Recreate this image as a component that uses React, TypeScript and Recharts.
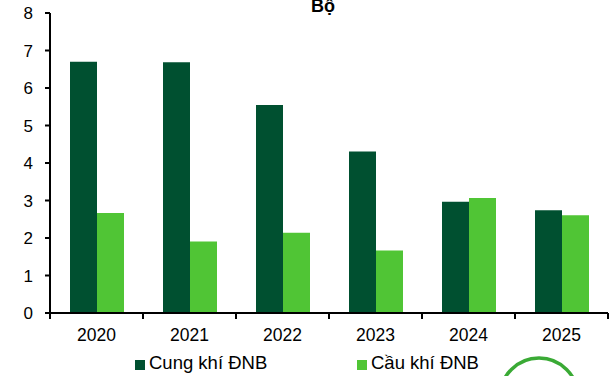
import React from "react";
import { BarChart, Bar, XAxis, YAxis, Legend } from "recharts";

const years = ["2020", "2021", "2022", "2023", "2024", "2025"];
const supply = [6.7, 6.69, 5.55, 4.31, 2.97, 2.74];
const demand = [2.67, 1.91, 2.14, 1.67, 3.07, 2.61];
const yTicks = [0, 1, 2, 3, 4, 5, 6, 7, 8];
const title = "Bộ";
const supplyName = "Cung khí ĐNB";
const demandName = "Cầu khí ĐNB";

const data = years.map((y, i) => ({ year: y, supply: supply[i], demand: demand[i] }));

const DARK = "#005030";
const LIGHT = "#50c535";
const FONT = "'Liberation Sans', Arial, sans-serif";

const XTick = (props: any) => {
  const { x, y, payload, index, visibleTicksCount } = props;
  const half = payload && payload.offset ? payload.offset : 46.5;
  const top = y - 8;
  return (
    <g>
      <line x1={x - half} x2={x - half} y1={top} y2={top + 6} stroke="#000" strokeWidth={2} />
      {index === visibleTicksCount - 1 ? (
        <line x1={x + half} x2={x + half} y1={top} y2={top + 6} stroke="#000" strokeWidth={2} />
      ) : null}
      <text x={x} y={y + 20} textAnchor="middle" fontSize={17.5} fontFamily={FONT} fill="#000">
        {payload.value}
      </text>
    </g>
  );
};

const LegendContent = () => (
  <div style={{ position: "relative", width: 613, height: 20, fontFamily: FONT, fontSize: 18.5 }}>
    <div style={{ position: "absolute", left: 135, top: 5, width: 10, height: 10, background: DARK }} />
    <div style={{ position: "absolute", left: 149, top: -2, lineHeight: "20px", whiteSpace: "nowrap" }}>{supplyName}</div>
    <div style={{ position: "absolute", left: 357, top: 5, width: 10, height: 10, background: LIGHT }} />
    <div style={{ position: "absolute", left: 371, top: -2, lineHeight: "20px", whiteSpace: "nowrap" }}>{demandName}</div>
  </div>
);

export default function App() {
  return (
    <div style={{ position: "absolute", left: 0, top: 0, width: 613, height: 376, overflow: "hidden", background: "#fff" }}>
      <BarChart
        width={613}
        height={376}
        data={data}
        margin={{ top: 13, right: 5, bottom: 13, left: 0 }}
        barCategoryGap={20}
        barGap={0}
      >
        <XAxis
          dataKey="year"
          height={30}
          axisLine={{ stroke: "#000", strokeWidth: 2 }}
          tickLine={false}
          tick={<XTick />}
          interval={0}
        />
        <YAxis
          width={50}
          domain={[0, 8]}
          ticks={yTicks}
          interval={0}
          axisLine={{ stroke: "#000", strokeWidth: 2 }}
          tickLine={{ stroke: "#000", strokeWidth: 2 }}
          tickSize={5}
          tickMargin={12}
          tick={{ fontSize: 17, fontFamily: FONT, fill: "#000" }}
        />
        <Legend
          content={<LegendContent />}
          wrapperStyle={{ position: "absolute", left: 0, top: 355, width: 613, height: 20 }}
        />
        <Bar dataKey="supply" name={supplyName} fill={DARK} isAnimationActive={false} />
        <Bar dataKey="demand" name={demandName} fill={LIGHT} isAnimationActive={false} />
      </BarChart>
      <svg width={613} height={376} style={{ position: "absolute", left: 0, top: 0, pointerEvents: "none" }}>
        <text x={323} y={12} textAnchor="middle" fontSize={18} fontWeight="bold" fontFamily={FONT} fill="#000">
          {title}
        </text>
        <circle cx={539} cy={397} r={39} fill="none" stroke="#3aaa35" strokeWidth={3.5} />
      </svg>
    </div>
  );
}
